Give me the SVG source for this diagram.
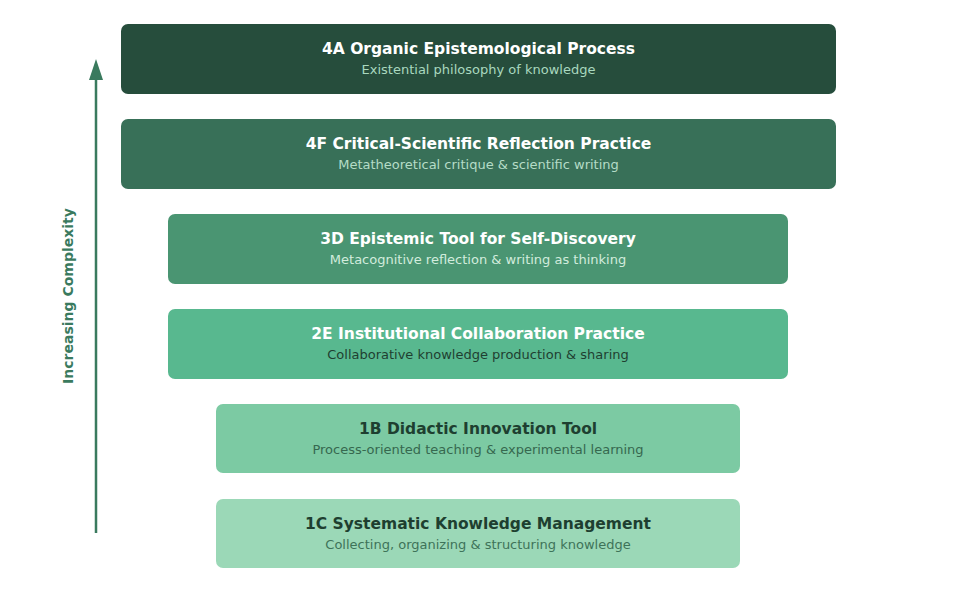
<svg xmlns="http://www.w3.org/2000/svg" width="956" height="594" viewBox="0 0 956 594">
<defs>
<style>
.box{stroke:none}
.t{font-family:"DejaVu Sans",sans-serif;font-weight:bold;font-size:15.5px;text-anchor:middle}
.s{font-family:"DejaVu Sans",sans-serif;font-size:13px;text-anchor:middle}
.lbl{font-family:"DejaVu Sans",sans-serif;font-weight:bold;font-size:14px;text-anchor:middle;fill:#3a7a5e}
</style>
</defs>
<rect width="956" height="594" fill="#ffffff"/>
<g id="connectors">
<line x1="96" y1="533" x2="96" y2="76" stroke="#3a7a5e" stroke-width="2.5"/>
<polygon points="96,59 103,80 89,80" fill="#3a7a5e"/>
</g>
<text class="lbl" transform="translate(73,296) rotate(-90)">Increasing Complexity</text>
<g id="n4A">
<rect class="box" x="121" y="24" width="715" height="70" rx="7" fill="#264d3c"/>
<text class="t" x="478.5" y="54" fill="#ffffff">4A Organic Epistemological Process</text>
<text class="s" x="478.5" y="73.5" fill="#a9d8bf">Existential philosophy of knowledge</text>
</g>
<g id="n4F">
<rect class="box" x="121" y="119" width="715" height="70" rx="7" fill="#387058"/>
<text class="t" x="478.5" y="149" fill="#ffffff">4F Critical-Scientific Reflection Practice</text>
<text class="s" x="478.5" y="168.5" fill="#b5dcc7">Metatheoretical critique &amp; scientific writing</text>
</g>
<g id="n3D">
<rect class="box" x="168" y="214" width="620" height="70" rx="7" fill="#4a9572"/>
<text class="t" x="478" y="244" fill="#ffffff">3D Epistemic Tool for Self-Discovery</text>
<text class="s" x="478" y="263.5" fill="#d2ecdd">Metacognitive reflection &amp; writing as thinking</text>
</g>
<g id="n2E">
<rect class="box" x="168" y="309" width="620" height="70" rx="7" fill="#58b88f"/>
<text class="t" x="478" y="339" fill="#ffffff">2E Institutional Collaboration Practice</text>
<text class="s" x="478" y="358.5" fill="#1f3f31">Collaborative knowledge production &amp; sharing</text>
</g>
<g id="n1B">
<rect class="box" x="216" y="404" width="524" height="69" rx="7" fill="#7ccaa3"/>
<text class="t" x="478" y="434" fill="#1e3f30">1B Didactic Innovation Tool</text>
<text class="s" x="478" y="453.5" fill="#36684f">Process-oriented teaching &amp; experimental learning</text>
</g>
<g id="n1C">
<rect class="box" x="216" y="499" width="524" height="69" rx="7" fill="#9bd8b7"/>
<text class="t" x="478" y="529" fill="#1e3f30">1C Systematic Knowledge Management</text>
<text class="s" x="478" y="548.5" fill="#3e7359">Collecting, organizing &amp; structuring knowledge</text>
</g>
</svg>
